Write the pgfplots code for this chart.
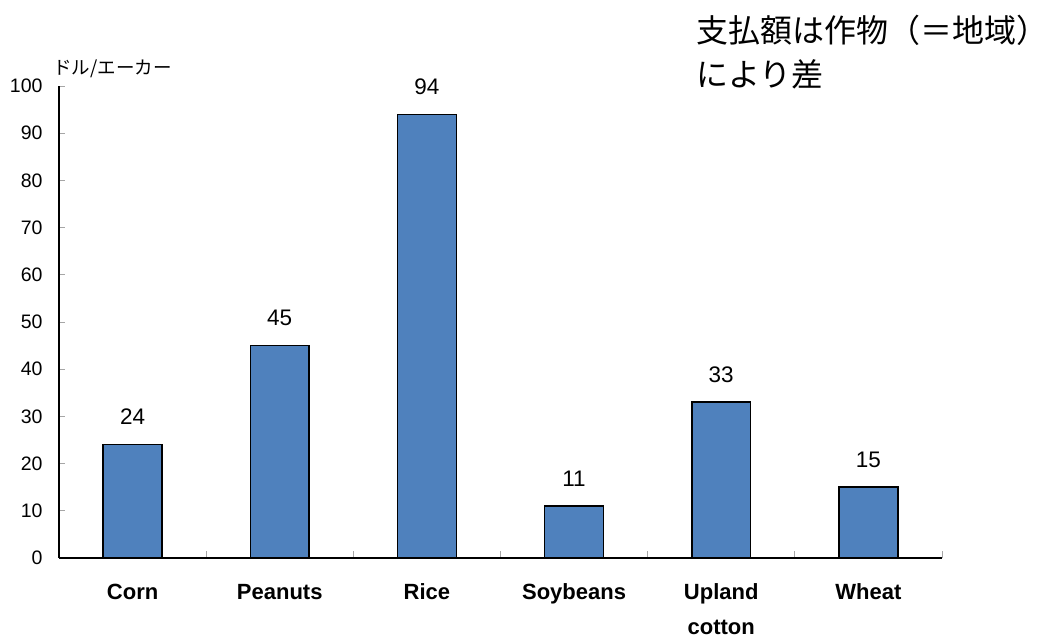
\documentclass[border=0pt]{standalone}
\usepackage{pgfplots}
\pgfplotsset{compat=1.18}
\usepackage{fontspec}
\setmainfont{Liberation Sans}
\newfontfamily\jp{Noto Sans CJK JP}
\definecolor{barblue}{HTML}{4F81BD}
\newcommand{\st}{\rule{0pt}{16pt}}
\begin{document}
\begin{tikzpicture}
\begin{axis}[
    scale only axis,
    width=883pt, height=472pt,
    xmin=0, xmax=6, ymin=0, ymax=100,
    axis x line*=bottom, axis y line*=left,
    axis line style={black, line width=1.3pt},
    clip=false,
    ytick={0,10,...,100},
    xtick={0.5,1.5,...,5.5},
    xticklabels={\st Corn,\st Peanuts,\st Rice,\st Soybeans,{\st Upland\\cotton},\st Wheat},
    minor xtick={0,1,...,6},
    tick align=inside,
    major tick length=6pt, minor tick length=7pt,
    x tick style={draw=none},
    minor x tick style={draw=gray!70, line width=0.8pt},
    y tick style={gray!70, line width=0.8pt},
    /pgf/number format/assume math mode=true,
    yticklabel style={font=\fontsize{19.5}{20}\selectfont, xshift=-13pt},
    xticklabel style={font=\fontsize{22}{35}\selectfont\bfseries, align=center, anchor=north, inner sep=0pt, yshift=-25pt},
    nodes near coords,
    every node near coord/.append style={font=\fontsize{22.5}{24}\selectfont, anchor=south, inner sep=0pt, yshift=19pt},
]
\addplot[ybar, bar width=0.4, fill=barblue, draw=black, line width=1.5pt] coordinates {
    (0.5,24) (1.5,45) (2.5,94) (3.5,11) (4.5,33) (5.5,15)
};
\path (axis cs:-0.401,-16.74) rectangle (axis cs:6.741,118.22);
\node[anchor=west, inner sep=0pt, font=\jp\fontsize{18.5}{20}\selectfont] at (axis cs:-0.04,103.6) {ドル/エーカー};
\node[anchor=north west, inner sep=0pt, align=left, font=\jp\fontsize{32}{44}\selectfont] at (axis cs:4.33,115) {支払額は作物（＝地域）\\により差};
\end{axis}
\end{tikzpicture}
\end{document}
